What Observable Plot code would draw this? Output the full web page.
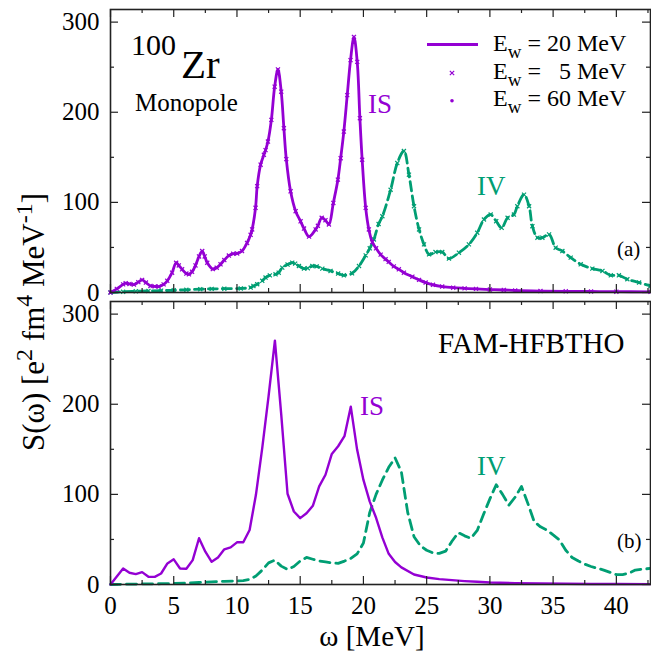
<!DOCTYPE html>
<html>
<head>
<meta charset="utf-8">
<script src="https://cdn.jsdelivr.net/npm/d3@7"></script>
<script src="https://cdn.jsdelivr.net/npm/@observablehq/plot@0.6"></script>
<style>
  html, body { margin: 0; padding: 0; background: #fff; }
  #chart { width: 651px; height: 656px; }
</style>
</head>
<body>
<div id="chart"></div>
<script>
// ---------- data ----------
const panels = ["a", "b"];
const xMajor = [0, 5, 10, 15, 20, 25, 30, 35, 40];
const xMinor = [2.5, 7.5, 12.5, 17.5, 22.5, 27.5, 32.5, 37.5, 42.5];
const yMajor = [0, 100, 200, 300];
const yMinor = [50, 150, 250];

// panel (a): isoscalar (IS), purple
const aIS_E = [0, 0.5, 1.0, 1.2, 1.5, 1.85, 2.2, 2.5, 2.8, 3.16, 3.5, 3.82, 4.2, 4.49, 4.87, 5.19, 5.4, 5.66, 6.0, 6.2, 6.45, 6.72, 7.0, 7.25, 7.45, 7.65, 8.09, 8.4, 8.7, 9.0, 9.36, 9.7, 10.02, 10.4, 10.8, 11.08, 11.2, 11.47, 11.6, 11.87, 12.13, 12.26, 12.45, 12.72, 12.98, 13.24, 13.5, 13.71, 13.9, 14.24, 14.64, 15.03, 15.3, 15.7, 16.22, 16.4, 16.7, 17.0, 17.27, 17.62, 17.98, 18.2, 18.45, 18.72, 18.98, 19.25, 19.51, 19.72, 19.9, 20.18, 20.43, 20.7, 21.0, 21.36, 21.75, 22.0, 22.4, 22.8, 23.2, 23.87, 24.4, 24.92, 25.5, 26.23, 27.1, 28.0, 28.9, 30.0, 31.1, 32.0, 34.0, 36.0, 38.0, 40.0, 42.7];
const aIS_S = [0, 4, 9, 10.3, 9.5, 8.8, 11.5, 14, 11, 7.3, 6.8, 6.6, 9, 13, 22, 33, 30, 25.7, 21, 20.2, 23, 30, 40, 46, 40, 33, 26, 27.5, 31.3, 36, 41, 43, 43.3, 46, 55, 64, 70, 94, 118, 141.8, 152.8, 158, 167.5, 191.5, 228.3, 247.5, 222.8, 182.3, 148, 112.3, 90.2, 79, 71, 62, 70, 74, 82.9, 80.2, 75.5, 99.4, 125.2, 149, 178.6, 219, 257.8, 283.5, 255.9, 193.4, 147.3, 93.9, 70, 56, 49, 42, 37, 34, 29, 25.7, 22, 17.5, 14, 11, 8.5, 6.6, 5.3, 4.6, 4, 3.3, 2.8, 2.2, 1.6, 1.3, 1.1, 0.9, 0.7];

// panel (a): isovector (IV), green
const aIV_E = [0, 1, 2, 3, 4, 5, 6, 7.1, 8, 9, 10.3, 11.08, 11.3, 11.6, 12.0, 12.26, 12.6, 13.05, 13.3, 13.58, 14.0, 14.37, 14.6, 14.9, 15.3, 15.6, 15.96, 16.3, 16.75, 17.4, 18.0, 18.45, 19.1, 19.65, 20.18, 20.5, 20.83, 21.2, 21.5, 22.15, 22.68, 23.2, 23.6, 24.0, 24.4, 24.79, 25.19, 25.7, 26.23, 26.76, 27.55, 28.34, 29.0, 29.53, 30.06, 30.5, 30.93, 31.4, 31.9, 32.17, 32.7, 33.1, 33.36, 33.76, 34.15, 34.68, 35.2, 35.73, 36.39, 37.18, 38.1, 38.9, 39.56, 40.2, 40.87, 41.8, 42.7];
const aIV_S = [0, 0.8, 1.3, 1.7, 2.0, 2.5, 3.0, 3.7, 4, 4.2, 4.5, 5.5, 7.3, 9.2, 13, 16.6, 19, 20.2, 22, 27.6, 31, 33.1, 32, 29.4, 26.5, 27, 29.4, 29, 26.5, 23.9, 21, 19.1, 21.3, 29.4, 41.2, 49, 58.9, 76, 84.6, 114, 143.6, 157, 130.7, 95.7, 70, 53.4, 42.3, 44.9, 44.9, 37.6, 44.2, 53.4, 66.3, 81, 86.5, 79.1, 71.8, 82.9, 86.5, 95.7, 108.6, 95.7, 73.6, 60.8, 60.8, 64.4, 49.7, 46, 38.7, 31.3, 26.5, 23.9, 19.1, 19.1, 14.7, 11, 7.3];

// panel (b): FAM-HFBTHO, IS purple
const bIS_E = [0, 1.0, 1.5, 2.0, 2.5, 3.0, 3.5, 4.0, 4.5, 5.0, 5.5, 6.0, 6.5, 7.0, 7.5, 8.0, 8.5, 9.0, 9.5, 10.0, 10.5, 11.0, 11.5, 12.0, 12.5, 13.0, 13.5, 14.0, 14.5, 15.0, 15.5, 16.0, 16.5, 17.0, 17.5, 18.0, 18.5, 19.0, 19.5, 20.0, 20.5, 21.0, 21.5, 22.0, 22.5, 23.0, 24.0, 25.0, 26.0, 27.0, 28.0, 29.0, 30.0, 32.0, 34.0, 36.0, 38.0, 40.0, 42.7];
const bIS_S = [0, 17.8, 13, 11.5, 13.7, 8.5, 8.5, 12.2, 23.4, 27.9, 17.8, 17.4, 27, 51.3, 36.4, 25.2, 30, 39, 41.2, 46.8, 46.8, 60.5, 99.5, 151.6, 209, 270.5, 188.7, 100.7, 81, 73.6, 79, 87.3, 108.8, 121.8, 144.9, 153.4, 164.6, 197.3, 149.7, 116, 92, 74, 52, 34, 25, 19, 11.1, 7.8, 6, 4.8, 3.8, 3, 2.2, 1.5, 1.1, 0.8, 0.6, 0.5, 0.4];

// panel (b): IV green
const bIV_E = [0, 1, 2, 3, 4, 5, 6, 7, 8, 9, 10, 10.5, 11.0, 11.5, 12.0, 12.5, 13.0, 13.5, 14.0, 14.5, 15.0, 15.5, 16.0, 16.5, 17.0, 17.5, 18.0, 18.5, 19.0, 19.5, 20.0, 20.5, 21.0, 21.5, 22.0, 22.5, 23.0, 23.5, 24.0, 24.5, 25.0, 25.5, 26.0, 26.5, 27.0, 27.5, 28.0, 28.5, 29.0, 29.5, 30.0, 30.5, 31.0, 31.5, 32.0, 32.5, 33.0, 33.5, 34.0, 34.5, 35.0, 35.5, 36.0, 36.5, 37.0, 37.5, 38.0, 39.0, 40.0, 40.5, 41.0, 41.5, 42.0, 42.7];
const bIV_S = [0, 0.3, 0.5, 0.7, 0.9, 1.2, 1.6, 2.2, 3, 3.5, 4, 4.3, 5.6, 9.5, 16, 24, 27, 20.4, 16.7, 20, 26, 30, 28, 26, 25, 24, 23.4, 26, 29, 34, 46, 80, 100, 116, 130, 140.5, 125, 80, 53, 43, 38, 35, 34.5, 37, 48, 57.5, 54, 51.3, 60, 78, 95, 110.7, 100, 88, 97, 108.8, 90, 69.8, 64, 60.5, 55, 49.4, 38, 30, 26, 22.5, 20, 16, 11, 11, 12.5, 16, 17, 17.8];

// ---------- build tables ----------
function rows(E, S, panel) { return E.map((e, i) => ({E: e, S: S[i], panel})); }
const aIS = rows(aIS_E, aIS_S, panels[0]);
const aIV = rows(aIV_E, aIV_S, panels[0]);
const bIS = rows(bIS_E, bIS_S, panels[1]);
const bIV = rows(bIV_E, bIV_S, panels[1]);

const PURPLE = "#9400d3";
const GREEN = "#009e73";
const FONT = "Liberation Serif, Times New Roman, serif";

const W = 651, H = 656;
const mL = 110, mR = 1, mT = 9, mB = 72;
const pad = 0.031;
const plotW = W - mL - mR;
const step = (H - mT - mB) / (2 - pad);
const bandH = step * (1 - pad);
const major = 8, minor = 4;

const chart = Plot.plot({
  width: W, height: H,
  marginLeft: mL, marginRight: mR, marginTop: mT, marginBottom: mB,
  style: {fontFamily: FONT, background: "#fff", color: "#000"},
  x: {domain: [0, 42.7]},
  y: {domain: [0, 314]},
  fy: {domain: panels, paddingInner: pad, paddingOuter: 0, axis: null, label: null},
  marks: [
    // curves
    Plot.line(aIV, {x: "E", y: "S", fy: "panel", stroke: GREEN, strokeWidth: 2.8, strokeDasharray: "9,5", curve: "catmull-rom"}),
    Plot.dot(aIV, {x: "E", y: "S", fy: "panel", symbol: "times", r: 2, stroke: GREEN, strokeWidth: 1.2}),
    Plot.line(aIS, {x: "E", y: "S", fy: "panel", stroke: PURPLE, strokeWidth: 2.8, curve: "catmull-rom"}),
    Plot.dot(aIS, {x: "E", y: "S", fy: "panel", symbol: "times", r: 2, stroke: PURPLE, strokeWidth: 1.2}),
    Plot.line(bIV, {x: "E", y: "S", fy: "panel", stroke: GREEN, strokeWidth: 2.8, strokeDasharray: "10,6"}),
    Plot.line(bIS, {x: "E", y: "S", fy: "panel", stroke: PURPLE, strokeWidth: 2.4}),
    // inward ticks
    Plot.tickX(xMajor, {x: d => d, insetTop: bandH - major, stroke: "#222", strokeWidth: 1.2}),
    Plot.tickX(xMajor, {x: d => d, insetBottom: bandH - major, stroke: "#222", strokeWidth: 1.2}),
    Plot.tickX(xMinor, {x: d => d, insetTop: bandH - minor, stroke: "#222", strokeWidth: 1.2}),
    Plot.tickX(xMinor, {x: d => d, insetBottom: bandH - minor, stroke: "#222", strokeWidth: 1.2}),
    Plot.tickY(yMajor, {y: d => d, insetRight: plotW - major, stroke: "#222", strokeWidth: 1.2}),
    Plot.tickY(yMajor, {y: d => d, insetLeft: plotW - major, stroke: "#222", strokeWidth: 1.2}),
    Plot.tickY(yMinor, {y: d => d, insetRight: plotW - minor, stroke: "#222", strokeWidth: 1.2}),
    Plot.tickY(yMinor, {y: d => d, insetLeft: plotW - minor, stroke: "#222", strokeWidth: 1.2}),
    Plot.frame({stroke: "#222", strokeWidth: 1.6}),
    // tick labels
    Plot.axisX({ticks: xMajor, tickSize: 0, tickPadding: 12, fontSize: 25, label: null, fill: "#000"}),
    Plot.axisY({ticks: yMajor, tickSize: 0, tickPadding: 11, fontSize: 25, label: null, fill: "#000"})
  ]
});

document.getElementById("chart").appendChild(chart);

// ---------- annotations (real SVG text) ----------
const svg = d3.select(chart);
const g = svg.append("g").attr("font-family", FONT).attr("fill", "#000").attr("text-anchor", "start");

function txt(x, y, s, size, color, anchor) {
  return g.append("text").attr("x", x).attr("y", y).attr("font-size", size)
    .attr("fill", color || "#000").attr("text-anchor", anchor || "start")
    .style("white-space", "pre").attr("xml:space", "preserve").text(s);
}

// panel (a)
txt(131, 55, "100", 30);
txt(181, 78, "Zr", 41);
txt(135, 111, "Monopole", 25);
txt(368, 113, "IS", 27, PURPLE);
txt(477, 195, "IV", 27, GREEN);
txt(617, 256, "(a)", 21);

// legend
const legendRows = ["= 20 MeV", "=   5 MeV", "= 60 MeV"];
const legendY = [51, 78.5, 106];
legendRows.forEach((s, i) => {
  const t = g.append("text").attr("x", 493).attr("y", legendY[i]).attr("font-size", 24)
    .attr("text-anchor", "start")
    .style("white-space", "pre").attr("xml:space", "preserve");
  t.append("tspan").text("E");
  t.append("tspan").attr("font-size", 19).attr("dy", 7).text("w");
  t.append("tspan").attr("dy", -7).text(" " + s);
});
g.append("line").attr("x1", 427).attr("x2", 478).attr("y1", 44.5).attr("y2", 44.5)
  .attr("stroke", PURPLE).attr("stroke-width", 2.8);
g.append("path").attr("d", d3.symbol(d3.symbolTimes, 14)()).attr("transform", "translate(452,73)")
  .attr("fill", "none").attr("stroke", PURPLE).attr("stroke-width", 1.2);
g.append("circle").attr("cx", 452).attr("cy", 100.7).attr("r", 1.8).attr("fill", PURPLE);

// panel (b)
txt(438, 353, "FAM-HFBTHO", 29);
txt(360, 415, "IS", 27, PURPLE);
txt(477, 475, "IV", 27, GREEN);
txt(617, 548, "(b)", 21);

// axis labels
txt(372, 646, "ω [MeV]", 29, "#000", "middle");
const yl = g.append("text").attr("transform", "translate(44,322) rotate(-90)")
  .attr("text-anchor", "middle").attr("font-size", 31);
yl.append("tspan").text("S(ω) [e");
yl.append("tspan").attr("font-size", 24).attr("dy", -12).text("2");
yl.append("tspan").attr("dy", 12).text(" fm");
yl.append("tspan").attr("font-size", 24).attr("dy", -12).text("4");
yl.append("tspan").attr("dy", 12).text(" MeV");
yl.append("tspan").attr("font-size", 24).attr("dy", -12).text("-1");
yl.append("tspan").attr("dy", 12).text("]");
</script>
</body>
</html>
